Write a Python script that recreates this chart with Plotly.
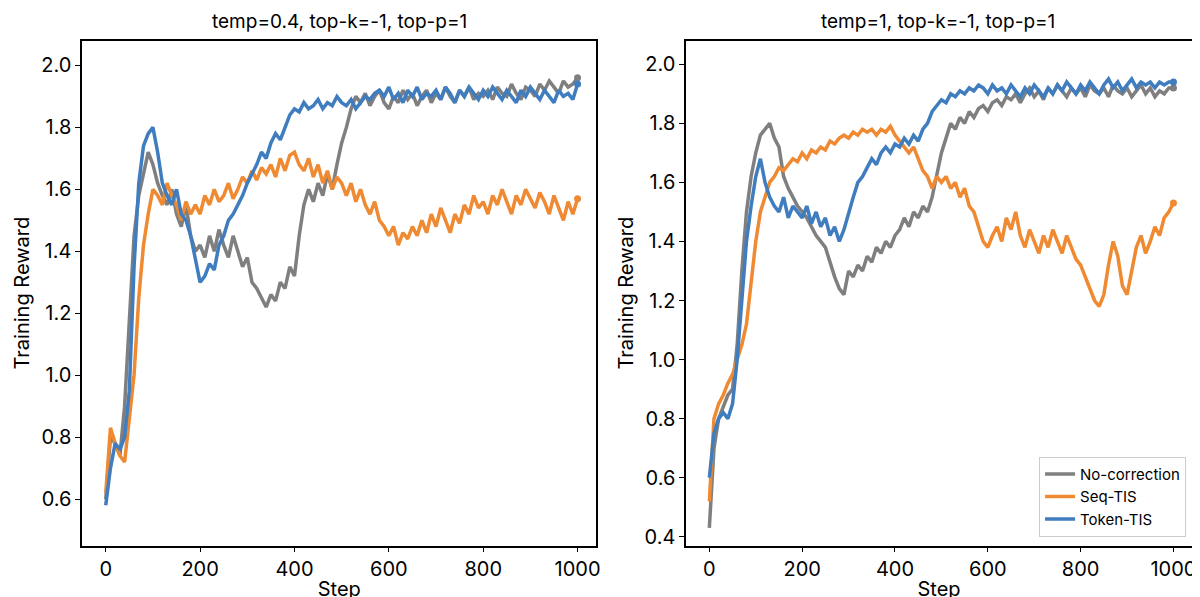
import plotly.graph_objects as go

steps = list(range(0, 1001, 10))

# left panel: temp=0.4
left_nocorr = [0.60,0.80,0.78,0.74,0.90,1.20,1.45,1.58,1.65,1.72,1.68,1.62,1.58,1.55,1.60,1.52,1.48,1.55,1.45,1.40,
               1.42,1.38,1.45,1.40,1.47,1.42,1.38,1.45,1.40,1.35,1.38,1.30,1.28,1.25,1.22,1.26,1.24,1.30,1.28,1.35,
               1.32,1.45,1.55,1.60,1.56,1.62,1.58,1.65,1.60,1.68,1.75,1.80,1.86,1.90,1.88,1.91,1.87,1.90,1.92,1.88,
               1.86,1.90,1.88,1.92,1.89,1.91,1.87,1.90,1.92,1.88,1.91,1.89,1.93,1.90,1.88,1.92,1.90,1.93,1.89,1.91,
               1.90,1.92,1.89,1.93,1.91,1.90,1.94,1.91,1.89,1.93,1.92,1.90,1.94,1.92,1.95,1.93,1.91,1.95,1.93,1.94,1.96]
left_seq = [0.62,0.83,0.78,0.74,0.72,0.85,1.00,1.25,1.42,1.52,1.60,1.58,1.55,1.62,1.58,1.55,1.50,1.56,1.52,1.55,
            1.52,1.58,1.55,1.60,1.56,1.58,1.62,1.57,1.60,1.64,1.62,1.66,1.63,1.67,1.65,1.68,1.64,1.70,1.66,1.71,
            1.72,1.68,1.66,1.70,1.64,1.68,1.62,1.66,1.60,1.64,1.62,1.58,1.62,1.56,1.60,1.55,1.52,1.56,1.50,1.48,
            1.45,1.48,1.42,1.46,1.44,1.48,1.45,1.50,1.46,1.52,1.48,1.54,1.50,1.46,1.52,1.49,1.55,1.52,1.58,1.54,
            1.56,1.52,1.58,1.55,1.60,1.56,1.52,1.58,1.55,1.60,1.57,1.54,1.59,1.56,1.52,1.58,1.54,1.50,1.56,1.52,1.57]
left_token = [0.58,0.70,0.78,0.76,0.80,0.95,1.35,1.62,1.74,1.78,1.80,1.72,1.62,1.58,1.55,1.60,1.52,1.50,1.45,1.38,
              1.30,1.32,1.36,1.34,1.42,1.45,1.50,1.52,1.55,1.58,1.62,1.65,1.68,1.72,1.70,1.75,1.78,1.76,1.80,1.84,
              1.86,1.85,1.88,1.86,1.87,1.89,1.86,1.88,1.87,1.90,1.88,1.87,1.89,1.86,1.88,1.90,1.89,1.91,1.92,1.90,
              1.93,1.89,1.91,1.88,1.92,1.90,1.93,1.89,1.91,1.90,1.92,1.89,1.93,1.91,1.88,1.92,1.90,1.93,1.91,1.89,
              1.92,1.90,1.93,1.91,1.89,1.92,1.90,1.88,1.92,1.90,1.93,1.91,1.89,1.92,1.90,1.88,1.92,1.90,1.91,1.89,1.94]

# right panel: temp=1
right_nocorr = [0.43,0.70,0.80,0.84,0.88,0.90,1.05,1.30,1.50,1.62,1.70,1.76,1.78,1.80,1.75,1.72,1.62,1.58,1.55,1.52,
                1.50,1.48,1.45,1.42,1.40,1.38,1.33,1.28,1.24,1.22,1.30,1.28,1.32,1.30,1.35,1.33,1.38,1.36,1.40,1.38,
                1.42,1.44,1.48,1.45,1.50,1.48,1.52,1.50,1.55,1.62,1.70,1.75,1.80,1.78,1.82,1.80,1.84,1.82,1.85,1.86,
                1.84,1.87,1.88,1.86,1.89,1.88,1.90,1.87,1.90,1.92,1.89,1.91,1.88,1.92,1.90,1.93,1.91,1.89,1.92,1.90,
                1.92,1.89,1.93,1.91,1.90,1.92,1.89,1.93,1.91,1.90,1.92,1.89,1.91,1.93,1.90,1.92,1.89,1.91,1.90,1.92,1.92]
right_seq = [0.52,0.80,0.85,0.88,0.92,0.95,1.00,1.05,1.12,1.25,1.40,1.50,1.55,1.60,1.62,1.65,1.64,1.66,1.68,1.67,
             1.70,1.68,1.71,1.70,1.72,1.71,1.74,1.73,1.75,1.76,1.75,1.77,1.76,1.78,1.77,1.78,1.76,1.78,1.77,1.79,
             1.76,1.74,1.72,1.70,1.72,1.68,1.64,1.62,1.58,1.62,1.60,1.62,1.58,1.60,1.55,1.58,1.52,1.50,1.45,1.40,
             1.38,1.42,1.45,1.40,1.48,1.44,1.50,1.42,1.38,1.44,1.40,1.36,1.42,1.38,1.44,1.40,1.36,1.42,1.38,1.34,
             1.32,1.28,1.24,1.20,1.18,1.22,1.32,1.40,1.35,1.25,1.22,1.30,1.38,1.42,1.36,1.40,1.45,1.42,1.48,1.50,1.53]
right_token = [0.60,0.75,0.80,0.82,0.80,0.85,1.00,1.20,1.40,1.52,1.62,1.68,1.60,1.55,1.52,1.50,1.55,1.48,1.52,1.50,
               1.48,1.52,1.46,1.50,1.45,1.48,1.42,1.45,1.40,1.44,1.50,1.55,1.60,1.62,1.65,1.68,1.66,1.70,1.72,1.70,
               1.73,1.72,1.75,1.73,1.76,1.74,1.78,1.80,1.84,1.86,1.88,1.87,1.90,1.89,1.91,1.90,1.92,1.91,1.93,1.92,
               1.90,1.93,1.91,1.92,1.90,1.93,1.91,1.89,1.92,1.90,1.93,1.91,1.89,1.92,1.90,1.93,1.91,1.94,1.92,1.90,
               1.93,1.91,1.94,1.92,1.90,1.93,1.95,1.92,1.94,1.91,1.93,1.95,1.92,1.94,1.93,1.94,1.92,1.94,1.93,1.94,1.94]

names = ["No-correction", "Seq-TIS", "Token-TIS"]
colors = ["#7f7f7f", "#ef8a32", "#3f7dbf"]
titles = ["temp=0.4, top-k=-1, top-p=1", "temp=1, top-k=-1, top-p=1"]

fig = go.Figure()
panels = [(left_nocorr, left_seq, left_token), (right_nocorr, right_seq, right_token)]
for p, series in enumerate(panels):
    xa = "x" if p == 0 else "x2"
    ya = "y" if p == 0 else "y2"
    for s, ys in enumerate(series):
        fig.add_trace(go.Scatter(x=steps, y=ys, mode="lines", name=names[s],
                                 line=dict(color=colors[s], width=3.5),
                                 xaxis=xa, yaxis=ya, showlegend=(p == 1)))
        fig.add_trace(go.Scatter(x=[steps[-1]], y=[ys[-1]], mode="markers",
                                 marker=dict(color=colors[s], size=7),
                                 xaxis=xa, yaxis=ya, showlegend=False))

axis_style = dict(showline=True, linecolor="black", linewidth=1.5, mirror=True,
                  ticks="outside", ticklen=5, tickcolor="black", showgrid=False,
                  zeroline=False, tickfont=dict(size=20, color="black"))

fig.update_layout(
    width=1200, height=597,
    margin=dict(l=0, r=0, t=0, b=0),
    plot_bgcolor="white", paper_bgcolor="white",
    font=dict(family="Inter, Open Sans, sans-serif", color="black"),
    xaxis=dict(domain=[0.062, 0.492], range=[-50, 1040], tickvals=list(range(0, 1001, 200)),
               title=dict(text="Step", font=dict(size=20), standoff=2), **axis_style),
    yaxis=dict(domain=[0.095, 0.945], range=[0.45, 2.08], tickvals=[0.6, 0.8, 1.0, 1.2, 1.4, 1.6, 1.8, 2.0],
               tickformat=".1f", title=dict(text="Training Reward", font=dict(size=20), standoff=6), **axis_style),
    xaxis2=dict(domain=[0.567, 0.99], range=[-50, 1040], tickvals=list(range(0, 1001, 200)), anchor="y2",
                title=dict(text="Step", font=dict(size=20), standoff=2), **axis_style),
    yaxis2=dict(domain=[0.095, 0.945], range=[0.37, 2.08], tickvals=[0.4, 0.6, 0.8, 1.0, 1.2, 1.4, 1.6, 1.8, 2.0],
                tickformat=".1f", anchor="x2",
                title=dict(text="Training Reward", font=dict(size=20), standoff=6), **axis_style),
    legend=dict(x=0.985, y=0.11, xanchor="right", yanchor="bottom", bordercolor="#cccccc", borderwidth=1,
                bgcolor="white", font=dict(size=15)),
    annotations=[
        dict(text=titles[0], x=0.277, y=0.955, xref="paper", yref="paper", showarrow=False,
             xanchor="center", yanchor="bottom", font=dict(size=19)),
        dict(text=titles[1], x=0.778, y=0.955, xref="paper", yref="paper", showarrow=False,
             xanchor="center", yanchor="bottom", font=dict(size=19)),
    ],
)

fig.write_html("out.html")
